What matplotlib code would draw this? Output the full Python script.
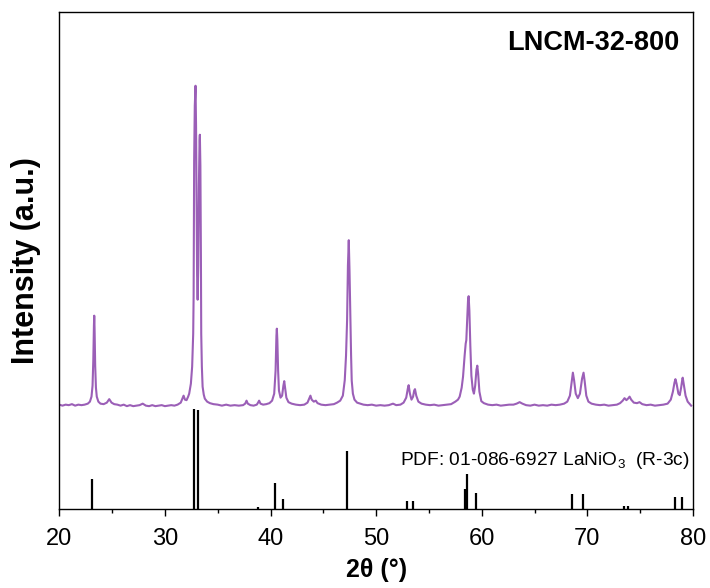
import matplotlib
matplotlib.use("Agg")
import matplotlib.pyplot as plt
from matplotlib.ticker import MultipleLocator

plt.rcParams['font.family'] = ['Liberation Sans', 'DejaVu Sans']
plt.rcParams['mathtext.fontset'] = 'custom'
plt.rcParams['mathtext.rm'] = 'Liberation Sans'
plt.rcParams['mathtext.it'] = 'Liberation Sans:italic'
plt.rcParams['mathtext.bf'] = 'Liberation Sans:bold'

# XRD pattern of LNCM-32-800 (2theta in degrees, intensity in a.u. above background)
two_theta = [
    20.0, 20.3, 20.6, 20.9, 21.2, 21.5, 21.8, 22.1, 22.4, 22.7, 22.9, 23.05, 23.15, 23.22,
    23.28, 23.31, 23.34, 23.4, 23.47, 23.55, 23.7, 23.9, 24.2, 24.5, 24.73, 24.95, 25.2,
    25.5, 25.8, 26.1, 26.4, 26.7, 27.0, 27.3, 27.6, 27.9, 28.2, 28.5, 28.8, 29.1, 29.4,
    29.7, 30.0, 30.3, 30.6, 30.9, 31.2, 31.5, 31.65, 31.77, 31.9, 32.05, 32.2, 32.3, 32.46,
    32.58, 32.68, 32.72, 32.77, 32.83, 32.9, 32.95, 33.0, 33.05, 33.1, 33.16, 33.22, 33.28,
    33.31, 33.36, 33.41, 33.44, 33.5, 33.57, 33.68, 33.78, 34.0, 34.26, 34.6, 35.0, 35.4,
    35.8, 36.2, 36.6, 37.0, 37.4, 37.6, 37.73, 37.85, 38.1, 38.4, 38.7, 38.82, 38.92, 39.05,
    39.3, 39.6, 39.9, 40.15, 40.35, 40.48, 40.56, 40.6, 40.65, 40.72, 40.8, 40.95, 41.1,
    41.22, 41.3, 41.38, 41.5, 41.7, 42.0, 42.4, 42.8, 43.2, 43.5, 43.7, 43.78, 43.9, 44.1,
    44.29, 44.45, 44.8, 45.2, 45.6, 46.0, 46.3, 46.6, 46.85, 47.03, 47.15, 47.25, 47.33,
    47.41, 47.48, 47.57, 47.63, 47.69, 47.8, 47.95, 48.2, 48.5, 48.8, 49.2, 49.6, 50.0,
    50.4, 50.8, 51.2, 51.6, 51.9, 52.3, 52.6, 52.85, 53.0, 53.08, 53.2, 53.35, 53.5, 53.6,
    53.68, 53.8, 54.0, 54.3, 54.7, 55.1, 55.5, 55.9, 56.3, 56.7, 57.1, 57.5, 57.75, 57.91,
    58.1, 58.23, 58.38, 58.48, 58.54, 58.62, 58.7, 58.76, 58.83, 58.92, 59.02, 59.15, 59.26,
    59.38, 59.5, 59.58, 59.66, 59.78, 59.96, 60.2, 60.6, 61.0, 61.4, 61.8, 62.2, 62.6, 63.0,
    63.3, 63.59, 63.85, 64.2, 64.6, 65.0, 65.4, 65.8, 66.2, 66.6, 67.0, 67.4, 67.8, 68.1,
    68.35, 68.5, 68.63, 68.75, 68.9, 69.1, 69.3, 69.5, 69.64, 69.75, 69.9, 70.1, 70.4, 70.8,
    71.2, 71.6, 72.0, 72.4, 72.8, 73.1, 73.35, 73.52, 73.7, 73.85, 74.0, 74.15, 74.4, 74.7,
    74.94, 75.2, 75.6, 76.0, 76.4, 76.8, 77.2, 77.6, 77.9, 78.1, 78.25, 78.34, 78.45, 78.62,
    78.75, 78.88, 79.0, 79.03, 79.12, 79.3, 79.5, 79.7, 79.83,
]
intensity = [
    1, 0, 1, 0.5, 1.5, 0, 1, 0.5, 1, 2, 4, 9, 20, 45,
    80, 90, 78, 40, 18, 9, 4, 2, 1.5, 3, 6.5, 3, 1.5,
    1, 0, 1, -0.5, 0.5, -0.5, 0, 0.5, 2, 0, -0.5, 0.5, -0.5, 0,
    0.5, -0.5, 0, 0.5, 0, 1, 3, 7, 10, 6, 5.5, 9, 12, 22,
    39, 72, 110, 245, 300, 320, 280, 200, 130, 106, 140, 220, 265,
    271, 240, 150, 72, 39, 19, 11, 7, 4, 2.5, 1.5, 1, 0,
    1, 0, 0.5, 0, 0.5, 2, 5, 2, 0.5, 0, 1, 3, 5, 2,
    1, 1.5, 2.5, 5, 12, 35, 70, 77, 65, 35, 15, 8, 10,
    20, 24.5, 18, 8, 3.5, 2, 1, 0.5, 1, 3, 8, 10, 6, 4,
    5, 2.5, 1, 0.5, 1, 1.5, 3, 5, 10, 25.5, 50, 85, 140,
    165.5, 135, 85, 50, 25, 12, 6, 3, 2, 1, 0.5, 1, 0,
    0.5, 0, 0.5, 2, 0.5, 1, 3, 8, 17, 20.5, 12, 6, 9, 15,
    16.5, 10, 4, 2, 1, 0.5, 1, 0, 0.5, 1, 1.5, 4, 6, 9,
    18, 29, 50, 62, 65.5, 85, 105, 109.5, 95, 60, 30, 16, 12,
    20, 36, 40, 32, 14, 4.5, 2.5, 1, 0.5, 1, 0, 0.5, 1, 1,
    2, 3.5, 2, 0.5, 0, 1, 0, 0.5, 0, 1, 0.5, 1, 2, 4,
    10, 22, 33, 25, 12, 7.5, 12, 27, 33, 24, 10, 4, 2, 1,
    0.5, 1, 0, 0.5, 1, 2.5, 5, 7.5, 5.5, 7, 9, 6, 3, 2.5,
    3.5, 1.5, 0.5, 1, 0, 0.5, 1, 2, 6, 14, 23, 26.5, 22, 12,
    10.5, 18, 27, 28, 22, 10, 4, 1.5, 0,
]

# PDF 01-086-6927 LaNiO3 (R-3c) reference lines
ref_pos = [23.13, 32.71, 33.12, 38.77, 40.44, 41.15, 47.28, 52.96, 53.49,
           58.41, 58.63, 59.42, 68.57, 69.55, 73.45, 73.83, 78.3, 78.97]
ref_int = [30, 100, 99, 2, 26, 9.5, 58, 8, 7.5,
           20, 35, 16, 15, 15, 3, 3, 12, 12]

offset = 103

fig = plt.figure(figsize=(7.1, 5.88), dpi=100)
ax = fig.add_axes([0.0835, 0.135, 0.8925, 0.845])

ax.plot(two_theta, [v + offset for v in intensity], color='#9b5fb7', lw=1.5)
ax.vlines(ref_pos, 0, ref_int, color='black', lw=1.6)

ax.set_xlim(20, 80)
ax.set_ylim(0, 497)
ax.xaxis.set_major_locator(MultipleLocator(10))
ax.xaxis.set_minor_locator(MultipleLocator(5))
ax.set_yticks([])
ax.tick_params(axis='x', which='major', direction='out', length=5, width=1, labelsize=17, pad=9)
ax.tick_params(axis='x', which='minor', direction='out', length=3, width=1)
for sp in ax.spines.values():
    sp.set_linewidth(1)

ax.set_xlabel('2θ (°)', fontsize=18, fontweight='bold', labelpad=6)
ax.set_ylabel('Intensity (a.u.)', fontsize=22, fontweight='bold', labelpad=13)

ax.text(0.978, 0.923, 'LNCM-32-800', transform=ax.transAxes, ha='right', va='baseline',
        fontsize=19.5, fontweight='bold')
ax.text(0.995, 0.088, 'PDF: 01-086-6927 LaNiO$_3$  (R-3c)', transform=ax.transAxes,
        ha='right', va='baseline', fontsize=13.8)

fig.savefig('out.png', dpi=100)
